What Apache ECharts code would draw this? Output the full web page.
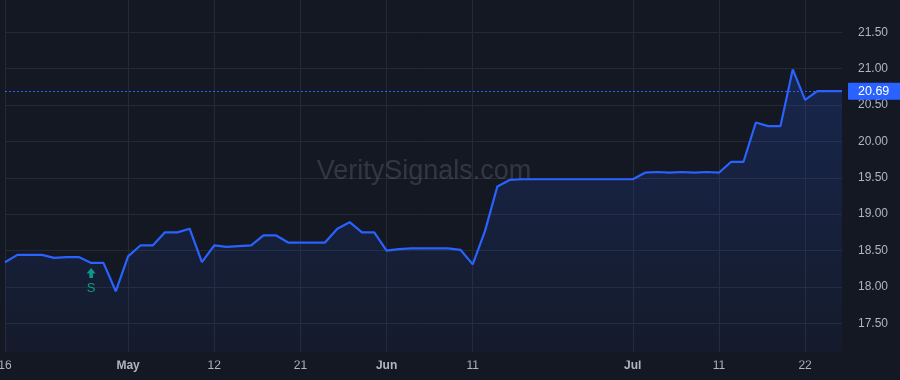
<!DOCTYPE html>
<html>
<head>
<meta charset="utf-8">
<script src="https://cdn.jsdelivr.net/npm/echarts/dist/echarts.min.js"></script>
<style>
html,body{margin:0;padding:0;background:#141823;}
#chart{width:900px;height:380px;}
</style>
</head>
<body>
<div id="chart"></div>
<script>
// ---- data ----
const dates = ['2025-04-16','2025-04-17','2025-04-21','2025-04-22','2025-04-23','2025-04-24','2025-04-25','2025-04-28','2025-04-29','2025-04-30',
'2025-05-01','2025-05-02','2025-05-05','2025-05-06','2025-05-07','2025-05-08','2025-05-09','2025-05-12','2025-05-13','2025-05-14',
'2025-05-15','2025-05-16','2025-05-19','2025-05-20','2025-05-21','2025-05-22','2025-05-23','2025-05-27','2025-05-28','2025-05-29',
'2025-05-30','2025-06-02','2025-06-03','2025-06-04','2025-06-05','2025-06-06','2025-06-09','2025-06-10','2025-06-11','2025-06-12',
'2025-06-13','2025-06-16','2025-06-17','2025-06-18','2025-06-20','2025-06-23','2025-06-24','2025-06-25','2025-06-26','2025-06-27',
'2025-06-30','2025-07-01','2025-07-02','2025-07-03','2025-07-07','2025-07-08','2025-07-09','2025-07-10','2025-07-11','2025-07-14',
'2025-07-15','2025-07-16','2025-07-17','2025-07-18','2025-07-21','2025-07-22','2025-07-23','2025-07-24','2025-07-25'];

const prices = [18.34,18.44,18.44,18.44,18.40,18.41,18.41,18.33,18.33,17.94,
18.42,18.57,18.57,18.75,18.75,18.80,18.34,18.57,18.55,18.56,
18.57,18.71,18.71,18.61,18.61,18.61,18.61,18.80,18.89,18.75,
18.75,18.50,18.52,18.53,18.53,18.53,18.53,18.51,18.31,18.77,
19.38,19.47,19.48,19.48,19.48,19.48,19.48,19.48,19.48,19.48,
19.48,19.48,19.57,19.58,19.57,19.58,19.57,19.58,19.57,19.72,
19.72,20.26,20.21,20.21,20.99,20.57,20.69,20.69,20.69];

const tickDates = ['2025-04-16','2025-05-01','2025-05-12','2025-05-21','2025-06-02','2025-06-11','2025-07-01','2025-07-11','2025-07-22'];
const tickTexts = ['16','May','12','21','Jun','11','Jul','11','22'];
const monthTicks = ['May','Jun','Jul'];

const yTickValues = [17.5,18.0,18.5,19.0,19.5,20.0,20.5,21.0,21.5];

const signalDates = ['2025-04-28'];
const signalTexts = ['S'];

const lastPrice = prices[prices.length - 1];
const watermark = 'VeritySignals.com';

// ---- chart ----
const BG = '#141823';
const GRID = '#242935';
const TXT = '#b2b5be';
const BLUE = '#2962ff';
const GREEN = '#0d9b82';

const tickSet = new Set(tickDates);
const tickInterval = (idx, val) => tickSet.has(val);

const chart = echarts.init(document.getElementById('chart'), null, {renderer: 'canvas'});
chart.setOption({
  backgroundColor: BG,
  animation: false,
  textStyle: {fontFamily: 'Liberation Sans, Arial, sans-serif'},
  grid: {left: 5, right: 58, top: -4.1, bottom: 20.3, containLabel: false, outerBoundsMode: 'none'},
  graphic: [
    {type: 'rect', z: 100, shape: {x: 0, y: 352, width: 842, height: 8.5}, style: {fill: BG}, silent: true},
    {type: 'text', z: 1, x: 424, y: 172, silent: true,
     style: {text: watermark, align: 'center', verticalAlign: 'middle',
             font: '27px "Liberation Sans", Arial, sans-serif', fill: 'rgba(200,205,220,0.17)'}}
  ],
  xAxis: {
    type: 'category',
    data: dates,
    boundaryGap: false,
    axisLine: {show: false},
    axisTick: {show: false},
    axisLabel: {
      interval: tickInterval,
      margin: 0,
      color: TXT,
      fontSize: 12,
      formatter: (v) => {
        const t = tickTexts[tickDates.indexOf(v)];
        if (t === undefined) return '';
        return monthTicks.includes(t) ? '{b|' + t + '}' : t;
      },
      rich: {b: {fontWeight: 'bold', color: TXT, fontSize: 12}}
    },
    splitLine: {show: true, interval: tickInterval, lineStyle: {color: GRID, width: 1}}
  },
  yAxis: {
    type: 'value',
    position: 'right',
    min: 17.0,
    max: 22.0,
    interval: 0.5,
    axisLine: {show: false},
    axisTick: {show: false},
    axisLabel: {
      margin: 16,
      color: TXT,
      fontSize: 12,
      formatter: (v) => yTickValues.some(t => Math.abs(t - v) < 1e-6) ? v.toFixed(2) : ''
    },
    splitLine: {show: true, lineStyle: {color: GRID, width: 1}}
  },
  series: [{
    type: 'line',
    data: prices,
    symbol: 'none',
    z: 5,
    lineStyle: {color: BLUE, width: 2.2},
    areaStyle: {
      color: new echarts.graphic.LinearGradient(0, 0, 0, 1, [
        {offset: 0, color: 'rgba(41,98,255,0.28)'},
        {offset: 1, color: 'rgba(41,98,255,0.05)'}
      ])
    },
    markLine: {
      silent: true,
      symbol: 'none',
      animation: false,
      lineStyle: {color: BLUE, width: 1, type: [2, 2], opacity: 1},
      label: {
        show: true,
        position: 'end',
        distance: 6,
        formatter: () => lastPrice.toFixed(2),
        color: '#ffffff',
        backgroundColor: BLUE,
        padding: [2, 12, 2, 10],
        fontSize: 12.5,
        borderRadius: 1
      },
      data: [{yAxis: lastPrice}]
    },
    markPoint: {
      silent: true,
      animation: false,
      data: signalDates.map((d, i) => ({
        coord: [d, prices[dates.indexOf(d)]],
        symbol: 'path://M5,0 L10,5.5 L7,5.5 L7,10 L3,10 L3,5.5 L0,5.5 Z',
        symbolSize: [9, 10],
        symbolOffset: [0, 10],
        itemStyle: {color: GREEN},
        label: {show: true, position: 'bottom', distance: 4, formatter: signalTexts[i],
                color: GREEN, fontSize: 13}
      }))
    }
  }]
});
</script>
</body>
</html>
